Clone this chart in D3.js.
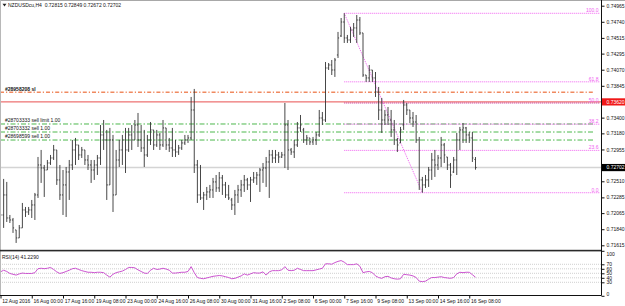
<!DOCTYPE html>
<html>
<head>
<meta charset="utf-8">
<script src="https://cdn.jsdelivr.net/npm/d3@7"></script>
<style>
  html, body { margin: 0; padding: 0; background: #fff; }
  svg { display: block; font-family: "Liberation Sans", Arial, sans-serif; }
</style>
</head>
<body>
<script>
const title = "NZDUSDcu,H4  0.72815 0.72849 0.72672 0.72702";
const rsiTitle = "RSI(14) 41.2290";

// time axis labels, one every 10 bars
const dateLabels = ["12 Aug 2016", "16 Aug 00:00", "17 Aug 16:00", "19 Aug 08:00", "23 Aug 00:00",
  "24 Aug 16:00", "26 Aug 08:00", "30 Aug 00:00", "31 Aug 16:00", "2 Sep 08:00", "6 Sep 00:00",
  "7 Sep 16:00", "9 Sep 08:00", "13 Sep 00:00", "14 Sep 16:00", "16 Sep 08:00"];
const dateIdx = [0, 10, 20, 30, 40, 50, 60, 70, 80, 90, 100, 110, 120, 130, 140, 150];

const priceTicks = [0.74965, 0.74740, 0.74515, 0.74295, 0.74070, 0.73845, 0.73400, 0.73180,
  0.72955, 0.72510, 0.72285, 0.72065, 0.71840, 0.71615];
const rsiTicks = [100, 70, 60, 50, 40, 30, 0];
const rsiLevels = [70, 60, 50, 40, 30];

// H4 bars: open, high, low, close
const bars = [
  [0.72109,0.72179,0.71899,0.72039],[0.72039,0.72543,0.71858,0.72319],[0.72319,0.72501,0.71941,0.71997],
  [0.71997,0.72039,0.71927,0.71969],[0.71969,0.71997,0.71788,0.71858],[0.71830,0.71830,0.71648,0.71718],
  [0.71718,0.71899,0.71718,0.71858],[0.71858,0.72207,0.71858,0.72109],[0.72109,0.72151,0.72011,0.72081],
  [0.72081,0.72151,0.72039,0.72109],[0.72109,0.72249,0.71997,0.72179],[0.72179,0.72347,0.71969,0.72319],
  [0.72319,0.72850,0.72277,0.72738],[0.72738,0.72948,0.72487,0.72696],[0.72696,0.72738,0.72291,0.72668],
  [0.72668,0.72808,0.72668,0.72766],[0.72766,0.72878,0.72738,0.72836],[0.72836,0.73018,0.72808,0.72948],
  [0.72948,0.72948,0.72459,0.72529],[0.72529,0.72738,0.72249,0.72319],[0.72319,0.72668,0.72039,0.72459],
  [0.72459,0.72710,0.72011,0.72640],[0.72640,0.72808,0.72249,0.72738],[0.72738,0.73088,0.72668,0.72948],
  [0.72948,0.73116,0.72738,0.73018],[0.73018,0.73018,0.72808,0.72878],[0.72878,0.72990,0.72836,0.72948],
  [0.72948,0.72948,0.72738,0.72808],[0.72808,0.72878,0.72668,0.72738],[0.72738,0.72808,0.72487,0.72668],
  [0.72668,0.72808,0.72529,0.72738],[0.72738,0.72878,0.72598,0.72836],[0.72836,0.73297,0.72738,0.73158],
  [0.73158,0.73367,0.72948,0.73088],[0.73088,0.73228,0.72249,0.72459],[0.72459,0.73256,0.72459,0.73088],
  [0.73088,0.73158,0.72081,0.72319],[0.72319,0.72948,0.72319,0.72808],[0.72808,0.73088,0.72710,0.72948],
  [0.72948,0.73158,0.72738,0.73088],[0.73088,0.73256,0.72626,0.72948],[0.72948,0.73256,0.72920,0.73158],
  [0.73158,0.73297,0.72948,0.73088],[0.73088,0.73367,0.73088,0.73297],[0.73297,0.73465,0.72990,0.73088],
  [0.73088,0.73297,0.72920,0.72976],[0.72976,0.73228,0.72710,0.72878],[0.72878,0.73158,0.72850,0.73088],
  [0.73088,0.73339,0.73018,0.73228],[0.73228,0.73228,0.72948,0.73018],[0.73018,0.73228,0.72990,0.73158],
  [0.73158,0.73186,0.72948,0.73018],[0.73018,0.73367,0.72990,0.73256],[0.73256,0.73256,0.72948,0.73018],
  [0.73018,0.73116,0.72920,0.72976],[0.72976,0.73256,0.72850,0.72948],[0.72948,0.73088,0.72850,0.72920],
  [0.72920,0.73018,0.72878,0.72976],[0.72976,0.73088,0.72948,0.73046],[0.73046,0.73158,0.73018,0.73088],
  [0.73088,0.73158,0.73046,0.73116],[0.73116,0.73689,0.73088,0.73507],[0.73507,0.73801,0.72626,0.72738],
  [0.72738,0.72808,0.72207,0.72319],[0.72319,0.72738,0.72249,0.72277],[0.72277,0.72361,0.72109,0.72319],
  [0.72319,0.72431,0.72249,0.72361],[0.72361,0.72459,0.72277,0.72389],[0.72389,0.72557,0.72277,0.72501],
  [0.72501,0.72598,0.72361,0.72417],[0.72417,0.72640,0.72361,0.72557],[0.72557,0.72598,0.72319,0.72459],
  [0.72459,0.72501,0.72277,0.72319],[0.72319,0.72459,0.72249,0.72277],[0.72249,0.72277,0.72109,0.72179],
  [0.72179,0.72389,0.72039,0.72319],[0.72319,0.72459,0.72207,0.72389],[0.72389,0.72529,0.72291,0.72459],
  [0.72459,0.72598,0.72361,0.72529],[0.72529,0.72557,0.72389,0.72459],[0.72459,0.72571,0.72221,0.72529],
  [0.72529,0.72640,0.72487,0.72557],[0.72557,0.72640,0.72459,0.72598],[0.72598,0.72696,0.72361,0.72668],
  [0.72668,0.72766,0.72487,0.72696],[0.72696,0.72850,0.72431,0.72780],[0.72780,0.72948,0.72277,0.72878],
  [0.72878,0.72948,0.72766,0.72836],[0.72836,0.72948,0.72766,0.72878],[0.72878,0.72920,0.72766,0.72850],
  [0.72850,0.72920,0.72836,0.72878],[0.72878,0.73605,0.72696,0.73297],[0.73297,0.73367,0.72668,0.72948],
  [0.72948,0.72976,0.72878,0.72920],[0.72920,0.73088,0.72836,0.73018],[0.73018,0.73339,0.72990,0.73256],
  [0.73256,0.73437,0.73200,0.73297],[0.73228,0.73256,0.73046,0.73088],[0.73088,0.73158,0.73018,0.73116],
  [0.73116,0.73116,0.73018,0.73060],[0.73060,0.73130,0.73018,0.73088],[0.73088,0.73200,0.73018,0.73158],
  [0.73158,0.73507,0.73130,0.73395],[0.73395,0.73479,0.73297,0.73367],[0.73367,0.74178,0.73339,0.74094],
  [0.74094,0.74164,0.74066,0.74136],[0.74136,0.74206,0.73996,0.74066],[0.74066,0.74234,0.73969,0.74206],
  [0.74276,0.74598,0.74234,0.74514],[0.74542,0.74793,0.74528,0.74737],[0.74737,0.74859,0.74444,0.74514],
  [0.74514,0.74556,0.74444,0.74486],[0.74486,0.74668,0.74444,0.74626],[0.74626,0.74723,0.74528,0.74654],
  [0.74654,0.74835,0.74444,0.74765],[0.74765,0.74807,0.74556,0.74584],[0.74584,0.74584,0.73969,0.73996],
  [0.73996,0.73996,0.73899,0.73955],[0.73955,0.74136,0.73899,0.74066],[0.74066,0.74066,0.73899,0.73955],
  [0.73955,0.74038,0.73689,0.73759],[0.73759,0.73829,0.73367,0.73507],[0.73507,0.73675,0.73186,0.73367],
  [0.73367,0.73507,0.73297,0.73437],[0.73437,0.73549,0.73297,0.73367],[0.73367,0.73507,0.73130,0.73228],
  [0.73228,0.73367,0.73018,0.73088],[0.73088,0.73116,0.72920,0.73018],[0.73046,0.73270,0.73046,0.73228],
  [0.73297,0.73647,0.73228,0.73577],[0.73577,0.73605,0.73437,0.73507],[0.73507,0.73507,0.73325,0.73395],
  [0.73395,0.73479,0.73270,0.73339],[0.73339,0.73437,0.73046,0.73088],[0.73088,0.73130,0.72389,0.72529],
  [0.72529,0.72571,0.72350,0.72459],[0.72459,0.72598,0.72417,0.72529],[0.72529,0.72710,0.72431,0.72668],
  [0.72668,0.72906,0.72529,0.72808],[0.72808,0.72948,0.72571,0.72738],[0.72738,0.72878,0.72668,0.72836],
  [0.72836,0.73130,0.72710,0.73018],[0.73018,0.73046,0.72766,0.72878],[0.72850,0.72850,0.72668,0.72738],
  [0.72738,0.72766,0.72417,0.72598],[0.72640,0.72850,0.72626,0.72808],[0.72808,0.73186,0.72598,0.73088],
  [0.73088,0.73270,0.72948,0.73228],[0.73228,0.73325,0.73046,0.73256],[0.73256,0.73270,0.73046,0.73158],
  [0.73158,0.73200,0.73046,0.73116],[0.73116,0.73200,0.72780,0.72836],[0.72815,0.72849,0.72672,0.72702]
];

// RSI(14), one value per bar
const rsi = [
  53.2,56.8,54.1,49.6,47.8,46.0,48.7,50.5,49.6,49.6,49.6,51.4,60.3,61.2,60.3,61.2,63.0,58.5,53.2,49.6,
  51.4,54.1,56.8,60.3,61.2,58.5,55.9,54.1,52.3,52.3,51.4,52.3,52.3,51.4,46.0,41.5,47.8,51.4,53.2,55.0,
  58.5,63.0,63.0,62.1,57.6,54.1,50.5,49.6,56.8,61.2,58.5,59.4,61.2,59.4,56.8,50.5,50.5,51.4,52.3,52.3,
  54.1,64.8,51.4,40.6,38.8,37.9,39.7,41.5,43.3,44.2,45.1,44.2,42.4,40.6,37.9,38.8,41.5,44.2,48.7,46.0,
  48.7,51.4,50.5,50.5,53.2,46.0,53.2,55.9,55.9,55.9,57.6,64.8,56.8,55.9,56.8,61.2,58.5,55.9,55.9,55.9,
  55.9,57.6,59.4,61.2,71.1,71.1,70.2,73.8,76.5,78.3,74.7,69.3,69.3,69.3,71.1,65.7,51.4,53.2,54.1,51.4,
  44.2,40.6,38.8,42.4,43.3,39.7,37.9,37.0,37.9,47.8,46.9,46.0,44.2,40.6,32.5,31.6,32.5,37.0,40.6,40.6,
  41.5,42.4,40.6,39.7,38.8,40.6,48.7,52.3,51.4,52.3,52.3,46.9,41.2
];

// fibonacci retracement drawn from the swing high bar to the swing low bar
const fibLevels = [0, 23.6, 38.2, 50, 61.8, 100];
const fibHighBar = 110, fibLowBar = 135;

// trade lines
const orderNames = ["#28958208 sl", "#28703333 sell limit 1.00", "#28703332 sell 1.00", "#28698599 sell 1.00"];
const orderPrices = [0.73754, 0.73311, 0.73199, 0.73087];
const redLevel = 0.73620;

const W = 625, H = 306;
const axisX = 601.5;
const mainTop = 1, mainBottom = 250;
const rsiTop = 251.5, rsiBottom = 295.5;

const x = d3.scaleLinear().domain([0, bars.length - 1]).range([0.5, 475.5]);
const y = d3.scaleLinear().domain([0.71615, 0.74965]).range([245.3, 5.7]);
const yR = d3.scaleLinear().domain([0, 100]).range([295.8, 250.8]);

const svg = d3.create("svg")
  .attr("width", W)
  .attr("height", H)
  .attr("viewBox", [0, 0, W, H]);

svg.append("rect").attr("width", W).attr("height", H).attr("fill", "#fff");

svg.append("defs").append("clipPath").attr("id", "mainClip")
  .append("rect").attr("x", 1).attr("y", mainTop).attr("width", axisX - 1).attr("height", mainBottom - mainTop);

const main = svg.append("g").attr("clip-path", "url(#mainClip)");

// bid line
const bid = bars[bars.length - 1][3];
main.append("line")
  .attr("x1", 0).attr("x2", axisX)
  .attr("y1", y(bid)).attr("y2", y(bid))
  .attr("stroke", "#d4d4d4").attr("stroke-width", 1.5);

// red level
main.append("line")
  .attr("x1", 0).attr("x2", axisX)
  .attr("y1", y(redLevel)).attr("y2", y(redLevel))
  .attr("stroke", "#e85050").attr("stroke-width", 1);

// order lines
orderPrices.forEach((p, i) => {
  const isSl = i === 0;
  main.append("line")
    .attr("x1", 0).attr("x2", 594)
    .attr("y1", y(p)).attr("y2", y(p))
    .attr("stroke", isSl ? "#f08a60" : "#4cb84c")
    .attr("stroke-width", isSl ? 1.4 : 1)
    .attr("stroke-dasharray", isSl ? "4,2,1.2,2" : "5,2,1.5,2");
  main.append("text")
    .attr("x", 5).attr("y", y(p) - 1.6)
    .attr("font-size", 5).attr("fill", "#111")
    .attr("font-weight", isSl ? "bold" : "normal")
    .text(orderNames[i]);
});

// fibonacci
const fHigh = bars[fibHighBar][1], fLow = bars[fibLowBar][2];
const fibColor = "#f060f0";
fibLevels.forEach(l => {
  const py = y(fLow + (fHigh - fLow) * l / 100);
  main.append("line")
    .attr("x1", x(fibHighBar)).attr("x2", 600)
    .attr("y1", py).attr("y2", py)
    .attr("stroke", l === 50 ? "#c0208a" : fibColor)
    .attr("stroke-width", 1)
    .attr("stroke-dasharray", "1,1");
  main.append("text")
    .attr("x", 598.5).attr("y", py - 1.2)
    .attr("text-anchor", "end")
    .attr("font-size", 5).attr("fill", fibColor)
    .text(d3.format(".1f")(l));
});
main.append("line")
  .attr("x1", x(fibHighBar)).attr("y1", y(fHigh))
  .attr("x2", x(fibLowBar)).attr("y2", y(fLow))
  .attr("stroke", fibColor).attr("stroke-width", 1).attr("stroke-dasharray", "1,1");

// price bars
const barG = main.append("g").attr("stroke", "#333").attr("stroke-width", 0.9);
bars.forEach((b, i) => {
  const cx = x(i);
  barG.append("line").attr("x1", cx).attr("x2", cx).attr("y1", y(b[1])).attr("y2", y(b[2]));
  barG.append("line").attr("x1", cx - 1.1).attr("x2", cx).attr("y1", y(b[0])).attr("y2", y(b[0]));
  barG.append("line").attr("x1", cx).attr("x2", cx + 1.1).attr("y1", y(b[3])).attr("y2", y(b[3]));
});

// title
svg.append("path").attr("d", "M2.5,3.8L6.5,3.8L4.5,6.6Z").attr("fill", "#222");
svg.append("text").attr("x", 8).attr("y", 7.2).attr("font-size", 5).attr("fill", "#111")
  .attr("xml:space", "preserve").text(title);

// RSI panel
const rsiG = svg.append("g");
rsiLevels.forEach(l => {
  rsiG.append("line")
    .attr("x1", 0).attr("x2", axisX)
    .attr("y1", yR(l)).attr("y2", yR(l))
    .attr("stroke", "#c4c4c4").attr("stroke-width", 0.8).attr("stroke-dasharray", "1,1");
});
rsiG.append("path")
  .datum(rsi)
  .attr("fill", "none")
  .attr("stroke", "#cc55d0")
  .attr("stroke-width", 1)
  .attr("d", d3.line().x((d, i) => x(i)).y(d => yR(d)));
rsiG.append("text").attr("x", 2).attr("y", 258.5).attr("font-size", 5).attr("fill", "#111").text(rsiTitle);

// frame lines
svg.append("line").attr("x1", 0).attr("x2", W).attr("y1", 0.5).attr("y2", 0.5).attr("stroke", "#a8a8a8");
svg.append("line").attr("x1", 0.5).attr("x2", 0.5).attr("y1", 0).attr("y2", rsiBottom).attr("stroke", "#b8b8b8");
svg.append("rect").attr("x", 0).attr("y", 249.8).attr("width", axisX).attr("height", 1.6).attr("fill", "#2a2a2a");
svg.append("line").attr("x1", 0).attr("x2", axisX).attr("y1", rsiBottom).attr("y2", rsiBottom).attr("stroke", "#111");
svg.append("line").attr("x1", axisX).attr("x2", axisX).attr("y1", 0).attr("y2", rsiBottom).attr("stroke", "#111");

// price axis
const pAxis = svg.append("g")
  .attr("transform", `translate(${axisX},0)`)
  .call(d3.axisRight(y).tickValues(priceTicks).tickFormat(d3.format(".5f")).tickSize(3).tickPadding(2));
pAxis.select(".domain").remove();
pAxis.selectAll("line").attr("stroke", "#111");
pAxis.selectAll("text").attr("font-size", 5).attr("font-family", null).attr("fill", "#111");

// RSI axis
const rAxis = svg.append("g")
  .attr("transform", `translate(${axisX},0)`)
  .call(d3.axisRight(yR).tickValues(rsiTicks).tickSize(3).tickPadding(2));
rAxis.select(".domain").remove();
rAxis.selectAll("line").attr("stroke", "#111");
rAxis.selectAll("text").attr("font-size", 5).attr("font-family", null).attr("fill", "#111")
  .attr("dy", d => d === 100 ? "0.95em" : d === 0 ? "-0.1em" : "0.32em");

// price boxes
function priceBox(p, bg) {
  svg.append("rect").attr("x", axisX + 0.5).attr("y", y(p) - 3.6).attr("width", 23).attr("height", 7.2).attr("fill", bg);
  svg.append("text").attr("x", 606.5).attr("y", y(p) + 1.8).attr("font-size", 5).attr("fill", "#fff")
    .text(d3.format(".5f")(p));
}
priceBox(redLevel, "#f01818");
priceBox(bid, "#000");

// time axis
const tAxis = svg.append("g").attr("transform", `translate(0,${rsiBottom})`)
  .call(d3.axisBottom(x).tickValues(dateIdx).tickFormat((d, i) => dateLabels[i]).tickSize(3).tickPadding(1));
tAxis.select(".domain").remove();
tAxis.selectAll("line").attr("stroke", "#111");
tAxis.selectAll("text").attr("font-size", 5).attr("font-family", null).attr("fill", "#111")
  .attr("text-anchor", "start").attr("dx", 1.2).attr("y", 4.2).attr("dy", "0.6em");

d3.select("body").append(() => svg.node());
</script>
</body>
</html>
